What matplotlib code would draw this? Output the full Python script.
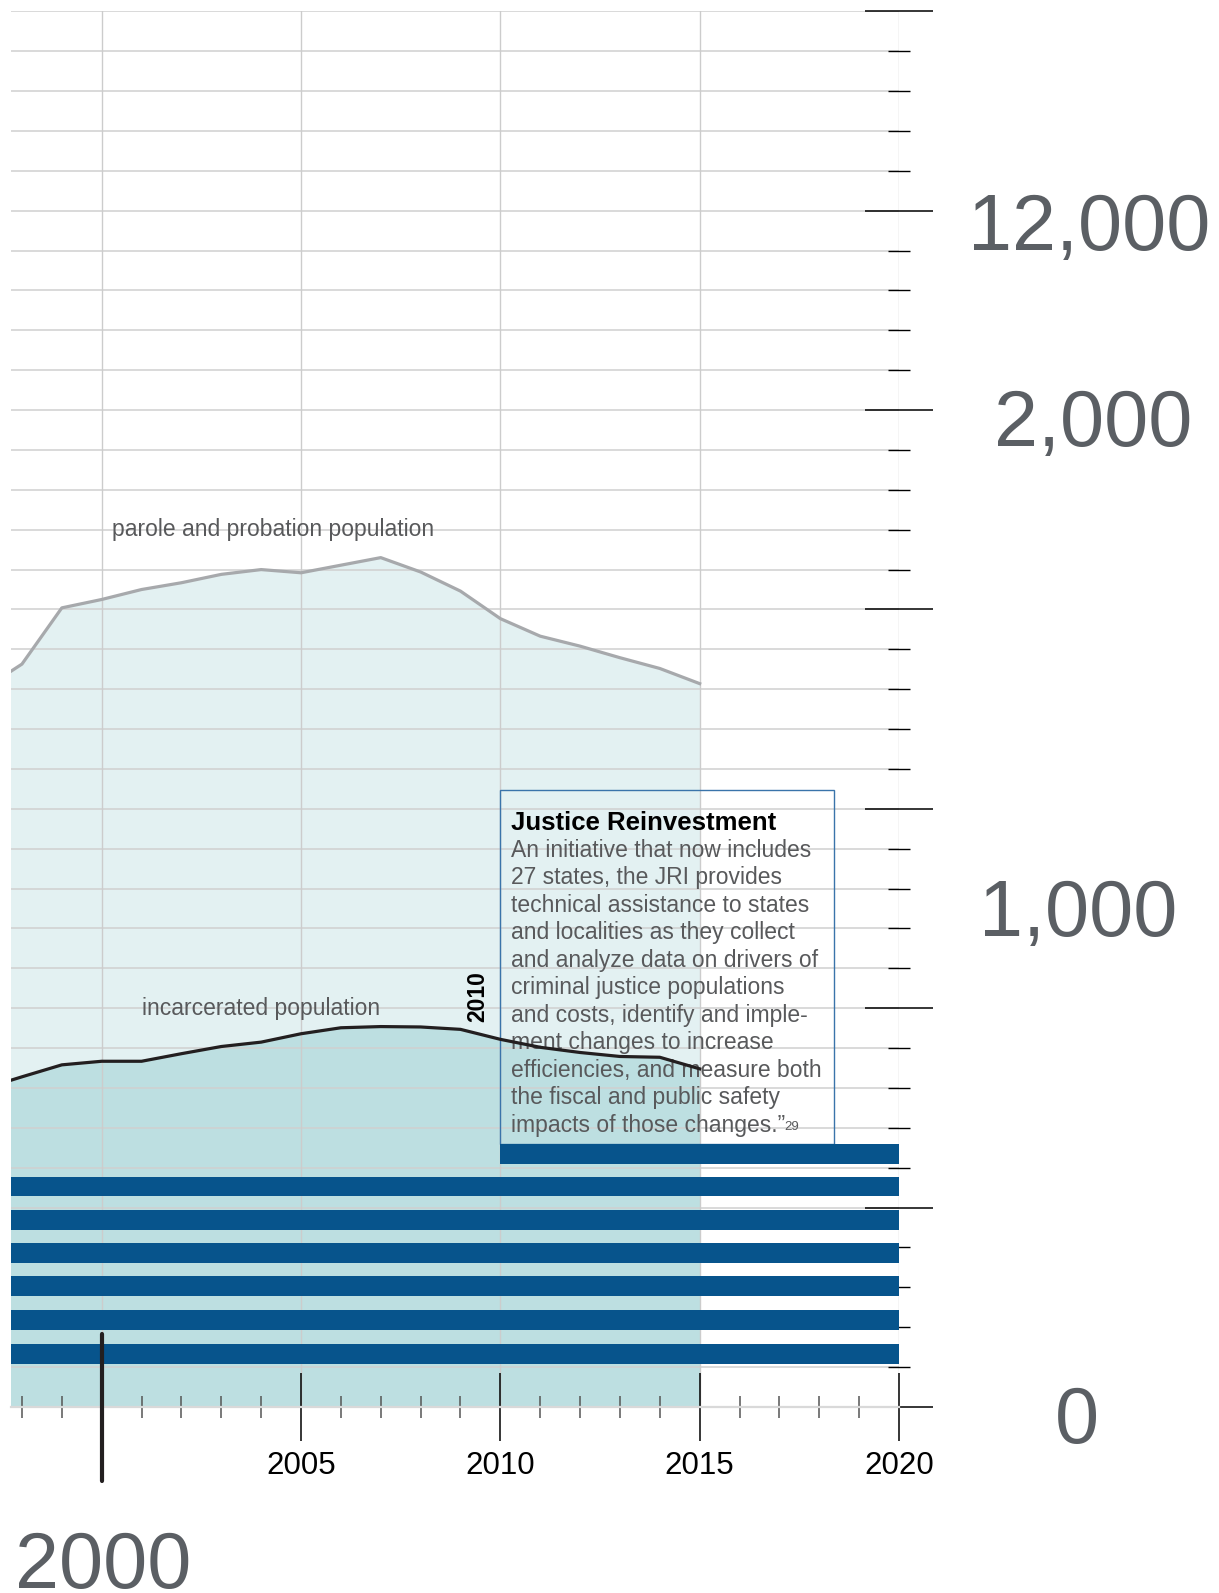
"""Parole/probation vs incarcerated population with Justice Reinvestment note."""

import matplotlib

matplotlib.use("Agg")
import matplotlib.pyplot as plt
from matplotlib.patches import Rectangle

plt.rcParams["font.family"] = ["Liberation Sans", "DejaVu Sans"]

# data (y in grid units, one unit per horizontal gridline)
years = list(range(1997, 2016))
parole = [17.98, 18.63, 20.04, 20.25, 20.50, 20.67, 20.88, 21.00, 20.92, 21.11,
          21.30, 20.94, 20.46, 19.77, 19.33, 19.08, 18.79, 18.52, 18.14]
incarcerated = [7.97, 8.28, 8.58, 8.67, 8.67, 8.86, 9.04, 9.15, 9.36, 9.51,
                9.54, 9.53, 9.47, 9.22, 9.02, 8.89, 8.79, 8.77, 8.48]

bar_rows = [6.35, 5.53, 4.70, 3.87, 3.03, 2.18, 1.33]
bar_start = [2010, 1997.725, 1997.725, 1997.725, 1997.725, 1997.725, 1997.725]
bar_end = [2020] * 7

x_labels = ["2005", "2010", "2015", "2020"]
x_major = [2005, 2010, 2015, 2020]
x_minor = [y for y in range(1998, 2020) if y % 5 != 0]

marker_year = 2000
marker_span = [-1.85, 1.83]

# big grey value labels: (text, x px, baseline y px)
value_labels = [("12,000", 1089, 250), ("2,000", 1093, 446),
                ("1,000", 1078, 936), ("0", 1077, 1443)]

note_title = "Justice Reinvestment"
note_lines = [
    "An initiative that now includes",
    "27 states, the JRI provides",
    "technical assistance to states",
    "and localities as they collect",
    "and analyze data on drivers of",
    "criminal justice populations",
    "and costs, identify and imple-",
    "ment changes to increase",
    "efficiencies, and measure both",
    "the fiscal and public safety",
    "impacts of those changes.\u201d",
]

W, H = 1219, 1593
GREY_TXT = "#58595b"
BIG_TXT = "#5b5f64"
BLUE = "#07548c"

fig = plt.figure(figsize=(W / 100, H / 100), dpi=100)
ax = fig.add_axes([11 / W, 1 - 1407 / H, (899 - 11) / W, (1407 - 11.3) / H])
ax.set_xlim(1997.725, 2020)
ax.set_ylim(0, 35)

ax.fill_between(years, 0, parole, color="#e3f1f2", lw=0, zorder=0.1)
ax.fill_between(years, 0, incarcerated, color="#bddfe1", lw=0, zorder=0.2)
ax.plot(years, parole, color="#a7a9ac", lw=2.3, zorder=3, solid_joinstyle="round")
ax.plot(years, incarcerated, color="#231f20", lw=2.3, zorder=3, solid_joinstyle="round")

ax.barh(bar_rows, [e - s for s, e in zip(bar_start, bar_end)], left=bar_start,
        height=0.5, color=BLUE, zorder=4)

ax.plot([marker_year, marker_year], marker_span, color="#231f20", lw=3,
        solid_capstyle="round", zorder=5, clip_on=False)

# grid
ax.set_axisbelow(True)
ax.set_yticks(range(0, 36, 5))
ax.set_yticks(range(0, 36), minor=True)
ax.set_xticks(x_major)
ax.set_xticks(x_minor, minor=True)
ax.set_xticklabels(x_labels, fontsize=22.5, color="black")
ax.set_yticklabels([])
for yv in range(1, 36):
    ax.axhline(yv, color="#d0d0d0", lw=1.1, zorder=0.4)
for xv in [2000, 2005, 2010, 2015, 2020]:
    ax.axvline(xv, color="#cccccc", lw=1.0, zorder=0.4)

ax.yaxis.tick_right()
ax.tick_params(axis="y", which="major", direction="inout", length=48.5,
               width=1.1, color="black")
ax.tick_params(axis="y", which="minor", direction="inout", length=16,
               width=1.0, color="black")
ax.tick_params(axis="x", which="major", direction="inout", length=48.5,
               width=1.1, color="black", pad=7.5)
ax.tick_params(axis="x", which="minor", direction="inout", length=15.5,
               width=1.1, color="#555555")
for side in ["top", "left", "right"]:
    ax.spines[side].set_visible(False)
ax.spines["bottom"].set_color("#d9d9d9")
ax.spines["bottom"].set_linewidth(1.6)

# series labels
ax.text(2000.25, 22.0, "parole and probation population", fontsize=16.5,
        color=GREY_TXT, va="center", ha="left", zorder=2)
ax.text(2001.0, 10.0, "incarcerated population", fontsize=16.5,
        color=GREY_TXT, va="center", ha="left", zorder=2)
ax.text(2009.44, 10.3, "2010", fontsize=16.5, fontweight="bold", rotation=90,
        ha="center", va="center", color="black", zorder=2)

# note box
ax.add_patch(Rectangle((2010, 6.6), 8.37, 15.48 - 6.6, fill=False,
                       edgecolor="#3a74aa", lw=1.0, zorder=2.6))
ax.text(2010.26, 14.47, note_title, fontsize=18.5, fontweight="bold",
        color="black", va="baseline", ha="left", zorder=2.7)
last = None
for i, line in enumerate(note_lines):
    last = ax.text(2010.26, 13.80 - i * 0.69, line, fontsize=16.5, color=GREY_TXT,
                   va="baseline", ha="left", zorder=2.7)
ax.annotate("29", xy=(1, 0), xycoords=last, xytext=(-0.5, 4.8),
            textcoords="offset points", fontsize=9.5, color=GREY_TXT,
            va="baseline", ha="left")

# big value labels
for txt, px, py in value_labels:
    fig.text(px / W, 1 - py / H, txt, fontsize=57, color=BIG_TXT,
             ha="center", va="baseline")
fig.text(15 / W, 1 - 1588 / H, "2000", fontsize=57, color=BIG_TXT,
         ha="left", va="baseline")

fig.savefig("out.png", dpi=100)
